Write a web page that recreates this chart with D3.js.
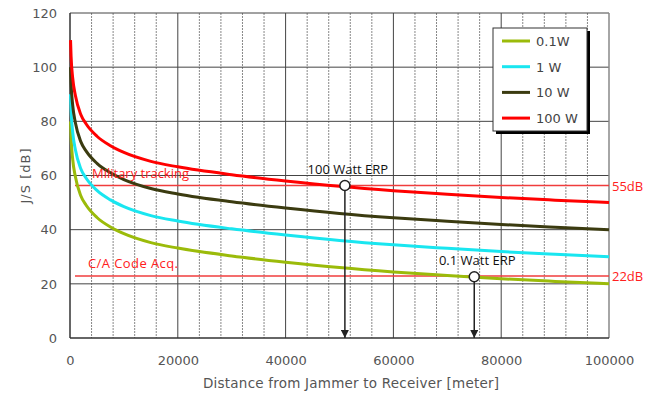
<!DOCTYPE html>
<html>
<head>
<meta charset="utf-8">
<script src="https://cdn.jsdelivr.net/npm/d3@7"></script>
<style>
  body { margin: 0; background: #fff; }
  svg text { font-family: "DejaVu Sans", sans-serif; }
</style>
</head>
<body>
<svg id="chart" width="659" height="394"></svg>
<script>
// distances in meters, J/S in dB
const distances = [100, 200, 500, 1000, 2000, 3000, 5000, 7500, 10000, 15000, 20000, 30000, 40000, 50000, 60000, 70000, 80000, 90000, 100000];
const js100W = [110, 104, 96, 89.5, 82.5, 79, 74.5, 71, 68.5, 65.2, 63.2, 60.3, 58, 56, 54.4, 53.1, 51.9, 50.9, 50];
const js10W = [100, 94, 86, 79.5, 72.5, 69, 64.5, 61, 58.5, 55.2, 53.2, 50.3, 48, 46, 44.4, 43.1, 41.9, 40.9, 40];
const js1W = [90, 84, 76, 69.5, 62.5, 59, 54.5, 51, 48.5, 45.2, 43.2, 40.3, 38, 36, 34.4, 33.1, 31.9, 30.9, 30];
const js01W = [80, 74, 66, 59.5, 52.5, 49, 44.5, 41, 38.5, 35.2, 33.2, 30.3, 28, 26, 24.4, 23.1, 21.9, 20.9, 20];

const seriesNames = ['0.1W', '1 W', '10 W', '100 W'];
const seriesColors = ['#9bbb0a', '#19e6f0', '#3b3b10', '#ff0000'];
const seriesValues = [js01W, js1W, js10W, js100W];

const thresholds = [
  { label: 'Military tracking', right: '55dB', value: 56.3 },
  { label: 'C/A Code Acq.', right: '22dB', value: 22.9 }
];
const markers = [
  { label: '100 Watt ERP', x: 51000, y: 56.3 },
  { label: '0.1 Watt ERP', x: 75000, y: 22.6 }
];

const xTicks = [0, 20000, 40000, 60000, 80000, 100000];
const yTicks = [0, 20, 40, 60, 80, 100, 120];

const svg = d3.select('#chart');
const x = d3.scaleLinear().domain([0, 100000]).range([70, 609]);
const y = d3.scaleLinear().domain([0, 120]).range([338, 13]);

const defs = svg.append('defs');
defs.append('marker')
  .attr('id', 'arrow')
  .attr('viewBox', '0 0 10 10')
  .attr('refX', 10).attr('refY', 5)
  .attr('markerWidth', 8).attr('markerHeight', 8)
  .attr('markerUnits', 'userSpaceOnUse')
  .attr('orient', 'auto')
  .append('path')
  .attr('d', 'M0,0 L10,5 L0,10 z')
  .attr('fill', '#222');

// minor dashed verticals every 4000
const minor = d3.range(4000, 100000, 4000).filter(d => d % 20000 !== 0);
svg.append('g').selectAll('line').data(minor).join('line')
  .attr('x1', d => x(d)).attr('x2', d => x(d))
  .attr('y1', y(120)).attr('y2', y(0))
  .attr('stroke', '#888').attr('stroke-width', 1)
  .attr('stroke-dasharray', '2,1');

// major grid
svg.append('g').selectAll('line').data(xTicks.slice(1, -1)).join('line')
  .attr('x1', d => x(d)).attr('x2', d => x(d))
  .attr('y1', y(120)).attr('y2', y(0))
  .attr('stroke', '#444').attr('stroke-width', 1);
svg.append('g').selectAll('line').data(yTicks.slice(1)).join('line')
  .attr('x1', x(0)).attr('x2', x(100000))
  .attr('y1', d => y(d)).attr('y2', d => y(d))
  .attr('stroke', '#444').attr('stroke-width', 1);

// frame
svg.append('line').attr('x1', x(100000)).attr('x2', x(100000)).attr('y1', y(120)).attr('y2', y(0))
  .attr('stroke', '#888').attr('stroke-width', 1.5);
svg.append('line').attr('x1', x(0)).attr('x2', x(0)).attr('y1', y(120)).attr('y2', y(0))
  .attr('stroke', '#333').attr('stroke-width', 1.5);
svg.append('line').attr('x1', x(0)).attr('x2', x(100000)).attr('y1', y(0)).attr('y2', y(0))
  .attr('stroke', '#333').attr('stroke-width', 1.5);

// axis labels
const xAxis = d3.axisBottom(x).tickValues(xTicks).tickSize(0).tickPadding(0).tickFormat(d3.format('d'));
const gx = svg.append('g').attr('transform', `translate(0,${y(0)})`).call(xAxis);
gx.select('.domain').remove();
gx.selectAll('text').attr('dy', 0).attr('y', 27)
  .attr('font-size', 13).attr('fill', '#555').style('font-family', '"DejaVu Sans", sans-serif');

const yAxis = d3.axisLeft(y).tickValues(yTicks).tickSize(0).tickPadding(13);
const gy = svg.append('g').attr('transform', `translate(${x(0)},0)`).call(yAxis);
gy.select('.domain').remove();
gy.selectAll('text').attr('font-size', 13).attr('fill', '#555').style('font-family', '"DejaVu Sans", sans-serif');

svg.append('text')
  .attr('x', 351).attr('y', 388)
  .attr('text-anchor', 'middle')
  .attr('font-size', 13.5).attr('fill', '#555')
  .attr('textLength', 296)
  .text('Distance from Jammer to Receiver [meter]');

svg.append('text')
  .attr('transform', 'translate(30,176) rotate(-90)')
  .attr('text-anchor', 'middle')
  .attr('font-size', 13).attr('fill', '#555')
  .attr('textLength', 55)
  .text('J/S [dB]');

// threshold lines
svg.append('g').selectAll('line').data(thresholds).join('line')
  .attr('x1', 75).attr('x2', x(100000))
  .attr('y1', d => y(d.value)).attr('y2', d => y(d.value))
  .attr('stroke', '#f03c3c').attr('stroke-width', 1.3);

// curves
const line = d3.line()
  .curve(d3.curveMonotoneX)
  .x(d => x(d[0]))
  .y(d => y(d[1]));
svg.append('g').selectAll('path').data(seriesValues).join('path')
  .attr('d', vals => line(distances.map((d, i) => [d, vals[i]])))
  .attr('fill', 'none')
  .attr('stroke', (d, i) => seriesColors[i])
  .attr('stroke-width', 3);

// threshold labels
svg.append('g').selectAll('text').data(thresholds).join('text')
  .attr('x', (d, i) => i === 0 ? 92 : 88)
  .attr('y', d => y(d.value) - 8)
  .attr('font-size', 13).attr('fill', '#ff2020')
  .style('font-family', '"Open Sans", sans-serif')
  .attr('textLength', (d, i) => i === 0 ? 97 : 90)
  .text(d => d.label);
svg.append('g').selectAll('text').data(thresholds).join('text')
  .attr('x', 612)
  .attr('y', d => y(d.value) + 5)
  .attr('font-size', 13).attr('fill', '#ff2020')
  .style('font-family', '"Open Sans", sans-serif')
  .text(d => d.right);

// markers with arrows
const mk = svg.append('g').selectAll('g').data(markers).join('g');
mk.append('line')
  .attr('x1', d => x(d.x)).attr('x2', d => x(d.x))
  .attr('y1', d => y(d.y) + 5).attr('y2', y(0))
  .attr('stroke', '#222').attr('stroke-width', 1.5)
  .attr('marker-end', 'url(#arrow)');
mk.append('circle')
  .attr('cx', d => x(d.x)).attr('cy', d => y(d.y)).attr('r', 5)
  .attr('fill', '#fff').attr('stroke', '#222').attr('stroke-width', 1.5);
mk.append('text')
  .attr('x', d => x(d.x) + 3).attr('y', d => y(d.y) - 12)
  .attr('text-anchor', 'middle')
  .attr('font-size', 13).attr('fill', '#111')
  .style('font-family', '"Open Sans", sans-serif')
  .text(d => d.label);

// legend
const lg = svg.append('g').attr('transform', 'translate(493,28)');
lg.append('rect').attr('x', 3).attr('y', 3).attr('width', 94).attr('height', 103).attr('fill', '#000');
lg.append('rect').attr('width', 94).attr('height', 103).attr('fill', '#fff').attr('stroke', '#333').attr('stroke-width', 1);
const items = lg.selectAll('g.item').data(seriesNames).join('g').attr('class', 'item')
  .attr('transform', (d, i) => `translate(0,${13 + i * 25.7})`);
items.append('line').attr('x1', 9).attr('x2', 37).attr('y1', 0).attr('y2', 0)
  .attr('stroke', (d, i) => seriesColors[i]).attr('stroke-width', 3);
items.append('text').attr('x', 43).attr('y', 5)
  .attr('font-size', 13).attr('fill', '#444')
  .text(d => d);
</script>
</body>
</html>
